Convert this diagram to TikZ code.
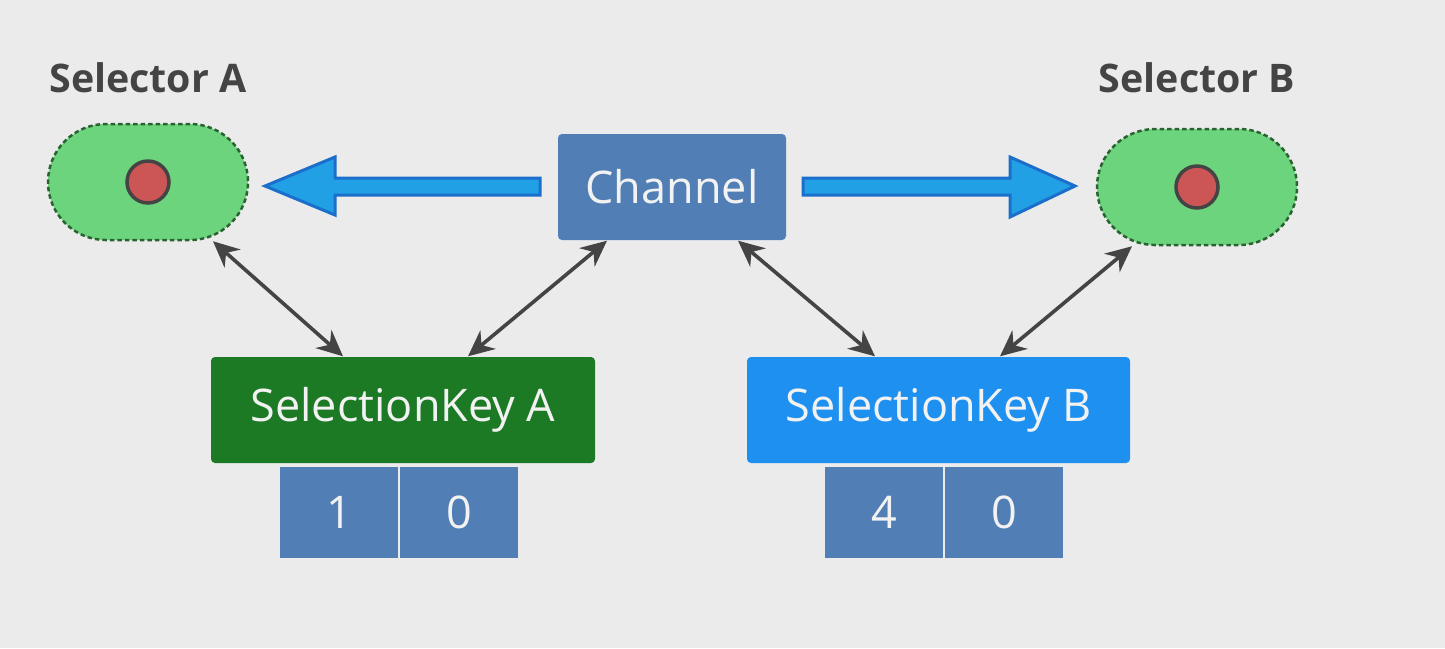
\documentclass[tikz,border=0pt]{standalone}
\usepackage{fontspec}
\setmainfont{Open Sans}
\usetikzlibrary{arrows.meta}
\usepackage{xcolor}
\definecolor{bggray}{HTML}{EBEBEB}
\definecolor{pillgreen}{HTML}{6DD47E}
\definecolor{pillline}{HTML}{2A6331}
\definecolor{dotred}{HTML}{CC5555}
\definecolor{darkline}{HTML}{444444}
\definecolor{chanblue}{HTML}{517FB5}
\definecolor{arrowfill}{HTML}{22A0E6}
\definecolor{arrowline}{HTML}{1B6FCB}
\definecolor{keygreen}{HTML}{1C7A24}
\definecolor{keyblue}{HTML}{1E90F0}
\definecolor{txtwhite}{HTML}{F2F2F2}

\tikzset{
  selpill/.style={draw=pillline, fill=pillgreen, line width=0.25mm,
    dash pattern=on 0.45mm off 0.3mm, rounded corners=5.8mm,
    minimum width=20mm, minimum height=11.6mm, inner sep=0},
  seldot/.style={circle, draw=darkline, fill=dotred, line width=0.35mm,
    minimum size=4.2mm, inner sep=0},
  sellabel/.style={text=darkline, font=\fontsize{11.2}{13}\selectfont\bfseries},
  bluebox/.style={fill=#1, rounded corners=0.4mm, text=txtwhite,
    font=\fontsize{12.8}{15}\selectfont, minimum height=10.6mm, inner sep=0},
  cell/.style={fill=chanblue, text=txtwhite, font=\fontsize{12.8}{15}\selectfont,
    minimum width=11.8mm, minimum height=9.1mm, inner sep=0},
  link/.style={darkline, line width=0.36mm, {Stealth[length=2.6mm,width=2.4mm]}-{Stealth[length=2.6mm,width=2.4mm]}},
  bigarrow/.style={fill=arrowfill, draw=arrowline, line width=0.3mm, line join=miter}
}

\begin{document}
\begin{tikzpicture}[x=0.1mm, y=-0.1mm]
        \fill[bggray] (0,0) rectangle (1445,648);
        \useasboundingbox (0,0) rectangle (1445,648);

        % selectors
        \node[sellabel] (labA) at (148,78) {Selector A};
        \node[sellabel] (labB) at (1197,78) {Selector B};
        \node[selpill] (selA) at (148,182) {};
        \node[selpill] (selB) at (1197,187) {};
        \node[seldot] (dotA) at (selA.center) {};
        \node[seldot] (dotB) at (selB.center) {};

        % channel and keys
        \node[bluebox=chanblue, minimum width=22.8mm] (chan) at (672,187) {Channel};
        \node[bluebox=keygreen, minimum width=38.4mm] (keyA) at (403,410) {SelectionKey A};
        \node[bluebox=keyblue, minimum width=38.3mm] (keyB) at (938.5,410) {SelectionKey B};

        % interest sets
        \node[cell] (opsA) at (339,512.5) {1};
        \node[cell] (rdyA) at (459,512.5) {0};
        \node[cell] (opsB) at (884,512.5) {4};
        \node[cell] (rdyB) at (1004,512.5) {0};

        % registration arrows
        \filldraw[bigarrow] (265,186)--(335,157)--(335,178)--(540,178)--(540,195)--(335,195)--(335,215)--cycle;
        \filldraw[bigarrow] (1075,186)--(1010,157)--(1010,178)--(803,178)--(803,195)--(1010,195)--(1010,217)--cycle;

        \path[link]
            ([xshift=6.5mm]selA.south) edge ([xshift=-6mm]keyA.north)
            ([xshift=-6.5mm]chan.south) edge ([xshift=6.5mm]keyA.north)
            ([xshift=6.6mm]chan.south) edge ([xshift=-6.35mm]keyB.north)
            ([xshift=-6.5mm]selB.south) edge ([xshift=6.15mm]keyB.north);
\end{tikzpicture}
\end{document}
